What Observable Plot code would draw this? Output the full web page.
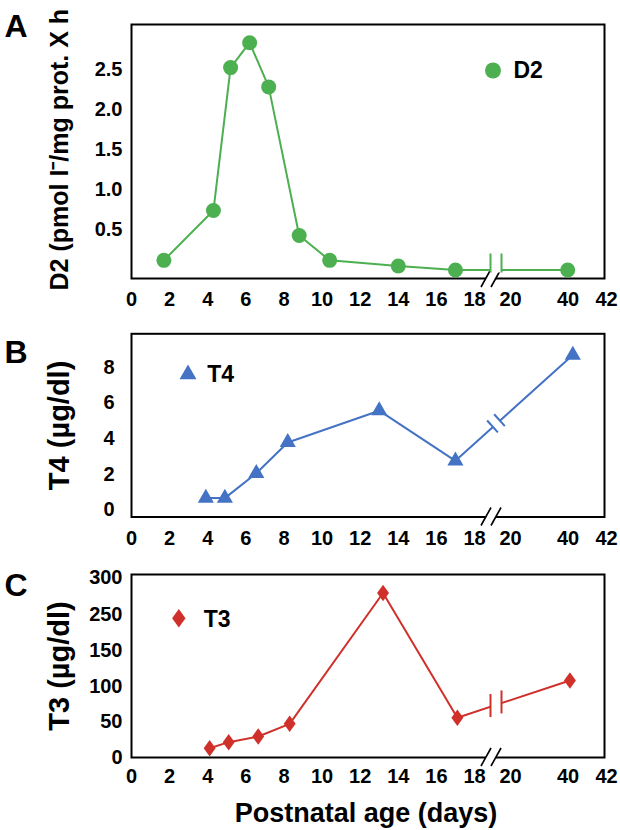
<!DOCTYPE html>
<html><head><meta charset="utf-8">
<script src="https://cdn.jsdelivr.net/npm/d3@7"></script>
<script src="https://cdn.jsdelivr.net/npm/@observablehq/plot@0.6"></script>
<style>
body{margin:0;background:#fff;}
#chart svg{display:block;}
#chart g[aria-label^="x-axis"], #chart g[aria-label^="y-axis"],
#chart g[aria-label^="x-axis"] text, #chart g[aria-label^="y-axis"] text {
  font-family:'Liberation Sans', Arial, sans-serif; font-size:20px; font-weight:bold; fill:black;
}
</style></head><body><div id="chart"></div>
<script>
// ---- data ----
const xTicks = [0,2,4,6,8,10,12,14,16,18,20,40,42];
const d2Days   = [1.7, 4.3, 5.2, 6.2, 7.2, 8.8, 10.4, 14.0, 17.0, 39.9];
const d2Values = [0.12, 0.74, 2.52, 2.83, 2.28, 0.43, 0.12, 0.05, 0.0, 0.0];
const t4Days   = [3.9, 4.9, 6.55, 8.2, 13.0, 17.0, 40.25];
const t4Values = [0.66, 0.66, 2.05, 3.78, 5.56, 2.75, 8.68];
const t3Days   = [4.1, 5.1, 6.65, 8.3, 13.2, 17.1, 40.1];
const t3Values = [13, 21.5, 29.4, 47.2, 279, 55.8, 108];
const d2Ticks = [0.5, 1.0, 1.5, 2.0, 2.5];
const t4Ticks = [0, 2, 4, 6, 8];
const t3Ticks = [0, 50, 100, 150, 250, 300];
const breakDay = 19;

const GREEN = "#4caf50", BLUE = "#4472c4", RED = "#d0302a";
const FONT = "'Liberation Sans', Arial, sans-serif";

const diamond = {draw(ctx, size) {
  const b = Math.sqrt(size / (2 * 0.72)), a = 0.72 * b;
  ctx.moveTo(0, -b); ctx.lineTo(a, 0); ctx.lineTo(0, b); ctx.lineTo(-a, 0); ctx.closePath();
}};

function axisBreak(at) {
  return (I, {x}, v, dims) => {
    const g = d3.create("svg:g");
    const yb = dims.height - dims.marginBottom;
    const c = x(at);
    g.append("line").attr("x1", c - 6).attr("x2", c + 4).attr("y1", yb).attr("y2", yb)
      .attr("stroke", "white").attr("stroke-width", 4);
    for (const o of [-6, 4]) {
      g.append("line").attr("x1", c + o - 5).attr("y1", yb + 9).attr("x2", c + o + 5).attr("y2", yb - 9)
        .attr("stroke", "black").attr("stroke-width", 1.6);
    }
    return g.node();
  };
}

function lineBreak(days, values, color, kind, up, down, half) {
  return (I, {x, y}) => {
    const i = days.findIndex(d => d > breakDay);
    const x1 = x(days[i-1]), y1 = y(values[i-1]), x2 = x(days[i]), y2 = y(values[i]);
    const c = x(breakDay) + 4;
    const at = xx => [xx, y1 + (y2 - y1) * (xx - x1) / (x2 - x1)];
    const P = at(c - half), Q = at(c + half);
    const g = d3.create("svg:g");
    g.append("line").attr("x1", P[0]).attr("y1", P[1]).attr("x2", Q[0]).attr("y2", Q[1])
      .attr("stroke", "white").attr("stroke-width", 6);
    const len = Math.hypot(x2 - x1, y2 - y1);
    const nx = -(y2 - y1) / len, ny = (x2 - x1) / len;
    for (const p of [P, Q]) {
      if (kind === "vertical") {
        g.append("line").attr("x1", p[0]).attr("y1", p[1] - up).attr("x2", p[0]).attr("y2", p[1] + down)
          .attr("stroke", color).attr("stroke-width", 2);
      } else {
        g.append("line").attr("x1", p[0] - nx * up).attr("y1", p[1] - ny * up)
          .attr("x2", p[0] + nx * down).attr("y2", p[1] + ny * down)
          .attr("stroke", color).attr("stroke-width", 2);
      }
    }
    return g.node();
  };
}

const xOpts = () => ({type: "linear", domain: [0, 18, 20, 40, 42], range: [131, 474, 510, 567.5, 606],
  ticks: xTicks, tickSize: 0, label: null});

function panel(o) {
  return Plot.plot({
    width: 620, height: o.height,
    marginLeft: 131, marginRight: 16, marginTop: o.marginTop, marginBottom: o.marginBottom,
    style: `font-family:${FONT};font-size:20px;font-weight:bold;color:black;background:white;overflow:visible;`,
    x: {...xOpts(), tickPadding: o.xPad},
    y: o.y,
    marks: o.marks
  });
}

const label = (t, opts) => Plot.text([t], {text: d => d, fill: "black", fontWeight: "bold", ...opts});

// ---- Panel A ----
const A = panel({
  height: 310, marginTop: 24, marginBottom: 32, xPad: 13,
  y: {type: "linear", domain: [-0.106, 3.057], ticks: d2Ticks, tickFormat: d => d.toFixed(1), tickSize: 0, tickPadding: 9, label: null},
  marks: [
    Plot.frame({stroke: "black", strokeWidth: 2}),
    axisBreak(breakDay),
    Plot.line(d2Days.map((d, i) => [d, d2Values[i]]), {x: "0", y: "1", stroke: GREEN, strokeWidth: 2}),
    lineBreak(d2Days, d2Values, GREEN, "vertical", 16, 3, 5.5),
    Plot.dot(d2Days.map((d, i) => [d, d2Values[i]]), {x: "0", y: "1", r: 7.5, fill: GREEN}),
    Plot.dot([0], {frameAnchor: "top-right", dx: -111.5, dy: 46, r: 8, fill: GREEN}),
    label("D2", {frameAnchor: "top-right", dx: -91, dy: 46.5, textAnchor: "start", lineAnchor: "middle", fontSize: 23}),
    label("A", {frameAnchor: "top-left", dx: -127, dy: -10, textAnchor: "start", lineAnchor: "top", fontSize: 32}),
    label("D2 (pmol I\u207B/mg prot. X h", {frameAnchor: "bottom-left", dx: -72, dy: 12, rotate: -90, textAnchor: "start", lineAnchor: "middle", fontSize: 25})
  ]
});

// ---- Panel B ----
const B = panel({
  height: 236, marginTop: 23.3, marginBottom: 29.5, xPad: 14,
  y: {type: "linear", domain: [-0.40, 9.87], ticks: t4Ticks, tickSize: 0, tickPadding: 17, label: null},
  marks: [
    Plot.frame({stroke: "black", strokeWidth: 2}),
    axisBreak(breakDay),
    Plot.line(t4Days.map((d, i) => [d, t4Values[i]]), {x: "0", y: "1", stroke: BLUE, strokeWidth: 2}),
    lineBreak(t4Days, t4Values, BLUE, "perp", 8, 8, 3.5),
    Plot.dot(t4Days.map((d, i) => [d, t4Values[i]]), {x: "0", y: "1", r: 6, symbol: "triangle", fill: BLUE}),
    Plot.dot([0], {frameAnchor: "top-left", dx: 56.5, dy: 40.5, r: 6.3, symbol: "triangle", fill: BLUE}),
    label("T4", {frameAnchor: "top-left", dx: 75.7, dy: 40.9, textAnchor: "start", lineAnchor: "middle", fontSize: 23}),
    label("B", {frameAnchor: "top-left", dx: -127, dy: 6, textAnchor: "start", lineAnchor: "top", fontSize: 32}),
    label("T4 (\u00B5g/dl)", {frameAnchor: "left", dx: -72, rotate: -90, textAnchor: "middle", lineAnchor: "middle", fontSize: 29})
  ]
});

// ---- Panel C ----
const C = panel({
  height: 284, marginTop: 28, marginBottom: 73, xPad: 11,
  y: {type: "linear", domain: [0, 150, 250, 303.6], range: [211, 104, 68.3, 28], ticks: t3Ticks, tickSize: 0, tickPadding: 9, label: null},
  marks: [
    Plot.frame({stroke: "black", strokeWidth: 2}),
    axisBreak(breakDay),
    Plot.line(t3Days.map((d, i) => [d, t3Values[i]]), {x: "0", y: "1", stroke: RED, strokeWidth: 2}),
    lineBreak(t3Days, t3Values, RED, "vertical", 12, 11, 5.5),
    Plot.dot(t3Days.map((d, i) => [d, t3Values[i]]), {x: "0", y: "1", r: 5.6, symbol: diamond, fill: RED}),
    Plot.dot([0], {frameAnchor: "top-left", dx: 47.3, dy: 43.7, r: 6.3, symbol: diamond, fill: RED}),
    label("T3", {frameAnchor: "top-left", dx: 72.3, dy: 44.7, textAnchor: "start", lineAnchor: "middle", fontSize: 23}),
    label("C", {frameAnchor: "top-left", dx: -127, dy: -1.5, textAnchor: "start", lineAnchor: "top", fontSize: 32}),
    label("T3 (\u00B5g/dl)", {frameAnchor: "left", dx: -72, rotate: -90, textAnchor: "middle", lineAnchor: "middle", fontSize: 29}),
    label("Postnatal age (days)", {frameAnchor: "bottom", dx: -2, dy: 56, lineAnchor: "middle", fontSize: 27})
  ]
});

const root = document.getElementById("chart");
root.append(A, B, C);
</script></body></html>
